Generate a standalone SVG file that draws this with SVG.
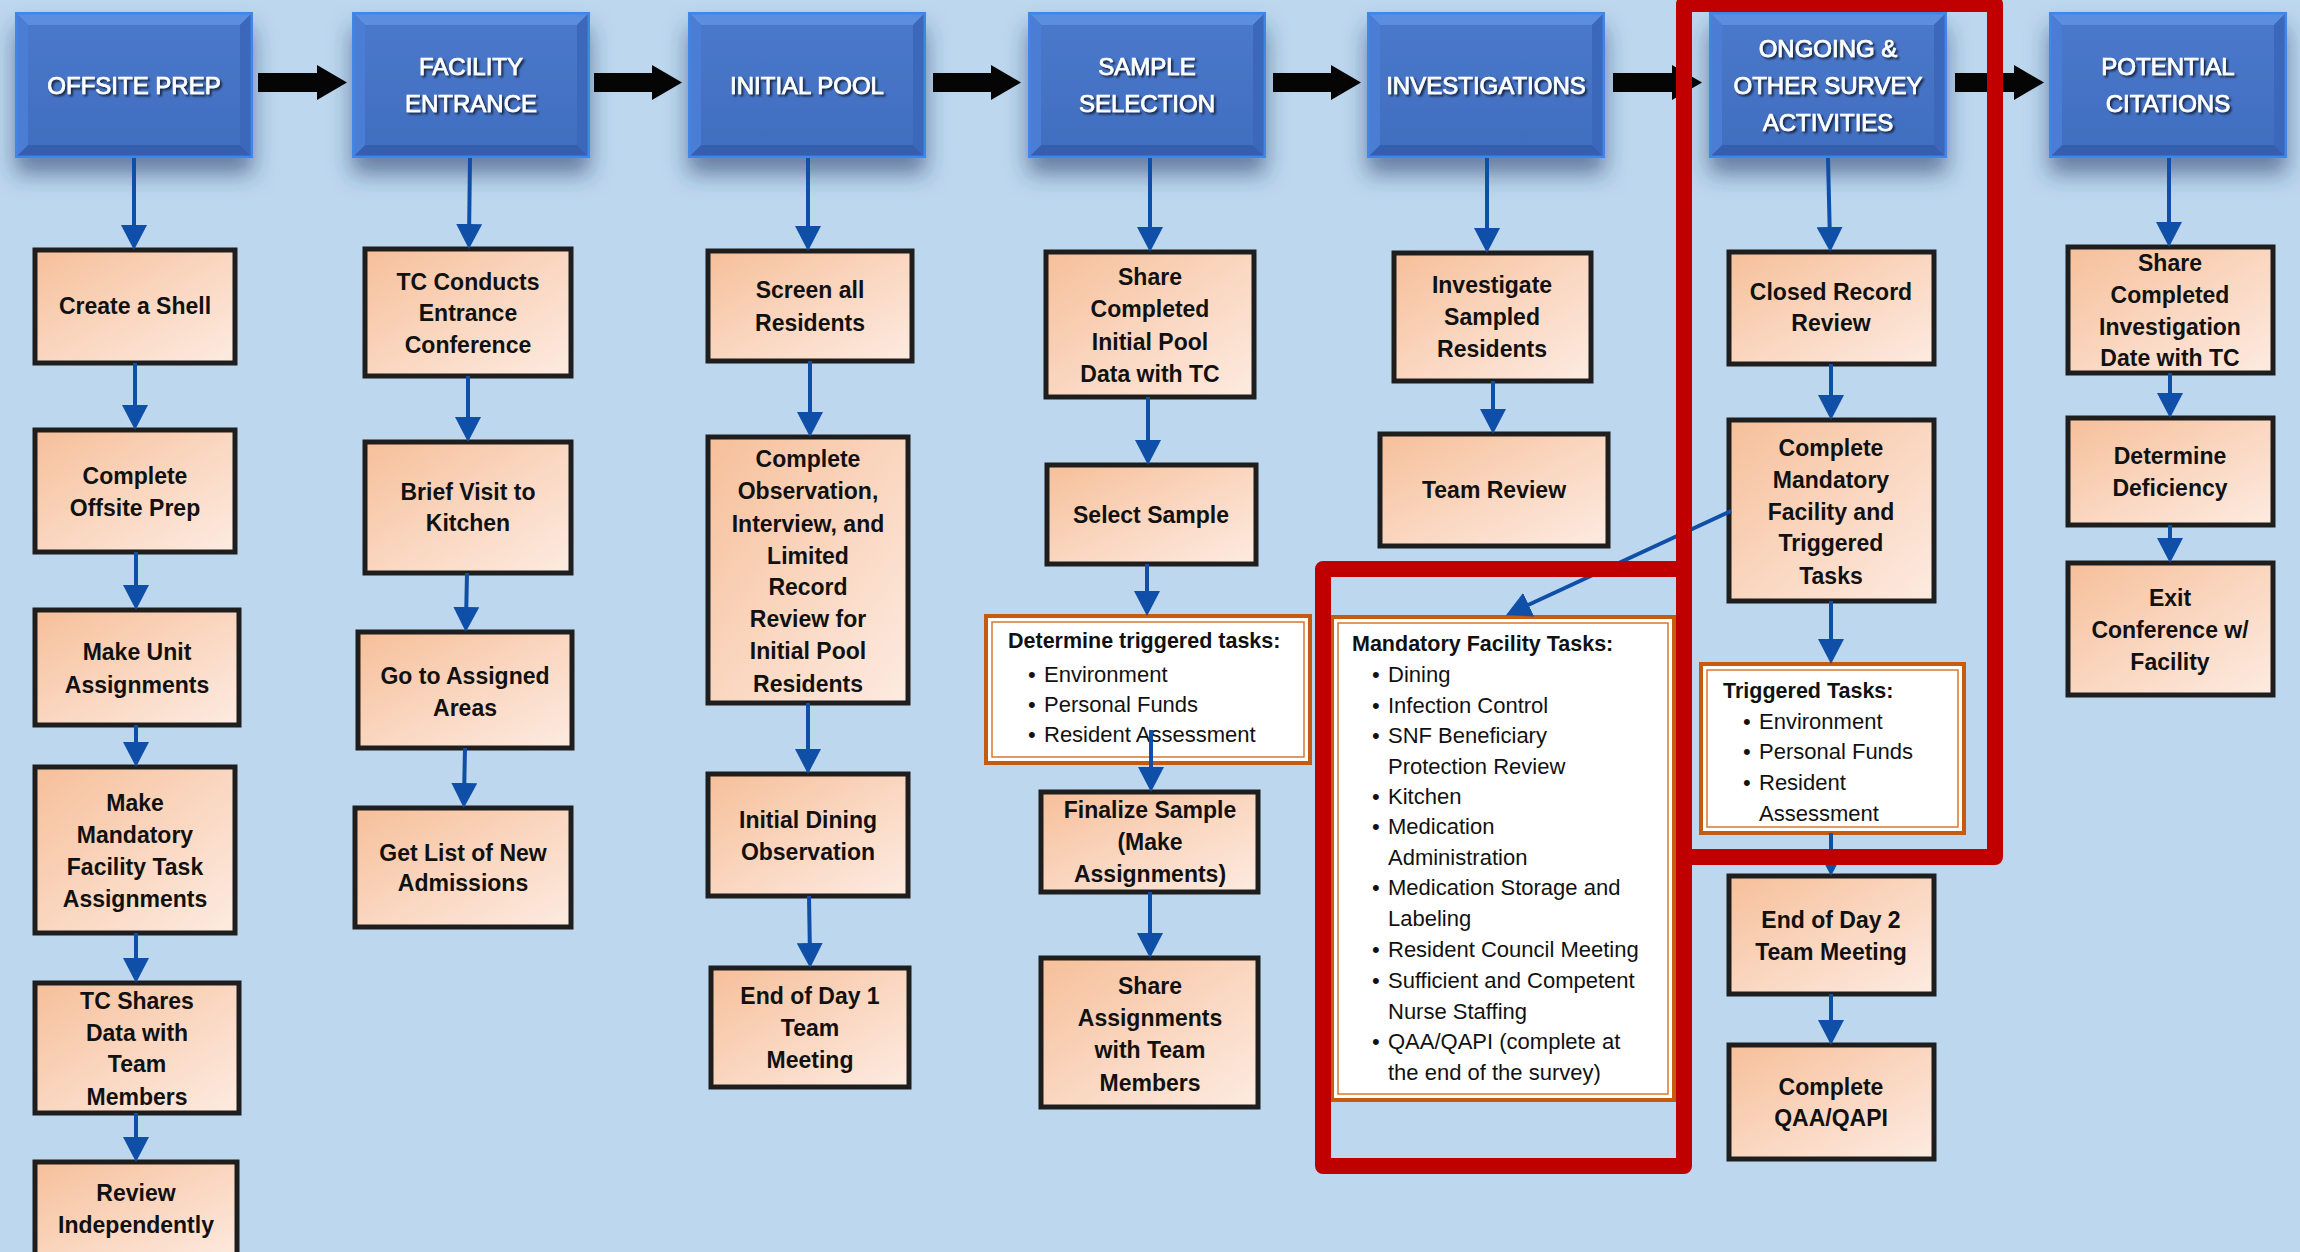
<svg xmlns="http://www.w3.org/2000/svg" width="2300" height="1252" viewBox="0 0 2300 1252">
  <style>
    .hdr-t { font-family: "Liberation Sans", Arial, sans-serif; font-size: 24px; fill: #FFFFFF; stroke: #FFFFFF; stroke-width: 0.7; text-anchor: middle; filter: url(#tshadow); }
    .pk { fill: url(#peach); stroke: #1E1E1E; stroke-width: 5; }
    .pt { font-family: "Liberation Sans", Arial, sans-serif; font-weight: bold; font-size: 23px; fill: #111111; text-anchor: middle; }
    .wb { fill: #FFFFFF; stroke: #C55A11; stroke-width: 4; }
    .wb-in { fill: none; stroke: #D9782E; stroke-width: 1.5; }
    .wt { font-family: "Liberation Sans", Arial, sans-serif; font-size: 22px; fill: #111111; }
    .wh { font-weight: bold; font-size: 21.5px; }
    .flow { fill: #050505; }
    .conn { fill: none; stroke: #0F4FA8; stroke-width: 4; marker-end: url(#ah); }
    .hl { fill: none; stroke: #C00000; stroke-width: 16; stroke-linejoin: round; }
  </style>
  <defs>
    <linearGradient id="peach" x1="0" y1="0" x2="1" y2="1">
      <stop offset="0" stop-color="#F6BF99"/>
      <stop offset="0.5" stop-color="#FAD6BF"/>
      <stop offset="1" stop-color="#FDEBE1"/>
    </linearGradient>
    <linearGradient id="face" x1="0" y1="0" x2="0" y2="1">
      <stop offset="0" stop-color="#4A78CA"/>
      <stop offset="1" stop-color="#416EC0"/>
    </linearGradient>
    <filter id="hshadow" x="-20%" y="-20%" width="140%" height="170%">
      <feDropShadow dx="0" dy="16" stdDeviation="11" flood-color="#1F3864" flood-opacity="0.55"/>
    </filter>
    <filter id="tshadow" x="-10%" y="-30%" width="120%" height="160%">
      <feDropShadow dx="2" dy="2" stdDeviation="1.2" flood-color="#000000" flood-opacity="0.7"/>
    </filter>
    <!-- bevelled blue stage header, 238 x 146 -->
    <g id="hdrShape">
      <rect x="0" y="0" width="238" height="146" fill="#3E6FC6"/>
      <polygon points="0,0 238,0 225,13 13,13" fill="#5C8EE0"/>
      <polygon points="0,146 238,146 225,133 13,133" fill="#355FAE"/>
      <polygon points="0,0 13,13 13,133 0,146" fill="#4B7DD4"/>
      <polygon points="238,0 225,13 225,133 238,146" fill="#3A67BA"/>
      <rect x="13" y="13" width="212" height="120" fill="url(#face)"/>
      <rect x="1.2" y="1.2" width="235.6" height="143.6" fill="none" stroke="#3F86E6" stroke-width="2.5"/>
    </g>
    <marker id="ah" viewBox="0 0 25 26" markerWidth="25" markerHeight="26" markerUnits="userSpaceOnUse" refX="15" refY="13" orient="auto">
      <path d="M0,0 L25,13 L0,26 Z" fill="#0F4FA8"/>
    </marker>
  </defs>

  <rect x="0" y="0" width="2300" height="1252" fill="#BDD7EE"/>

  <!-- stage headers -->
  <g id="hdr-offsite-prep">
    <use href="#hdrShape" x="15" y="12" filter="url(#hshadow)"/>
    <text class="hdr-t" x="134" y="94">OFFSITE PREP</text>
  </g>
  <g id="hdr-facility-entrance">
    <use href="#hdrShape" x="352" y="12" filter="url(#hshadow)"/>
    <text class="hdr-t" x="471" y="75">FACILITY</text>
    <text class="hdr-t" x="471" y="112">ENTRANCE</text>
  </g>
  <g id="hdr-initial-pool">
    <use href="#hdrShape" x="688" y="12" filter="url(#hshadow)"/>
    <text class="hdr-t" x="807" y="94">INITIAL POOL</text>
  </g>
  <g id="hdr-sample-selection">
    <use href="#hdrShape" x="1028" y="12" filter="url(#hshadow)"/>
    <text class="hdr-t" x="1147" y="75">SAMPLE</text>
    <text class="hdr-t" x="1147" y="112">SELECTION</text>
  </g>
  <g id="hdr-investigations">
    <use href="#hdrShape" x="1367" y="12" filter="url(#hshadow)"/>
    <text class="hdr-t" x="1486" y="94">INVESTIGATIONS</text>
  </g>
  <g id="hdr-ongoing">
    <use href="#hdrShape" x="1709" y="12" filter="url(#hshadow)"/>
    <text class="hdr-t" x="1828" y="57">ONGOING &amp;</text>
    <text class="hdr-t" x="1828" y="94">OTHER SURVEY</text>
    <text class="hdr-t" x="1828" y="131">ACTIVITIES</text>
  </g>
  <g id="hdr-potential-citations">
    <use href="#hdrShape" x="2049" y="12" filter="url(#hshadow)"/>
    <text class="hdr-t" x="2168" y="75">POTENTIAL</text>
    <text class="hdr-t" x="2168" y="112">CITATIONS</text>
  </g>

  <!-- OFFSITE PREP column -->
  <g id="n-create-shell">
    <rect class="pk" x="35" y="250" width="200" height="113"/>
    <text class="pt" x="135" y="314">Create a Shell</text>
  </g>
  <g id="n-complete-offsite">
    <rect class="pk" x="35" y="430" width="200" height="122"/>
    <text class="pt" x="135" y="484">Complete</text>
    <text class="pt" x="135" y="516">Offsite Prep</text>
  </g>
  <g id="n-unit-assignments">
    <rect class="pk" x="35" y="610" width="204" height="115"/>
    <text class="pt" x="137" y="660">Make Unit</text>
    <text class="pt" x="137" y="693">Assignments</text>
  </g>
  <g id="n-task-assignments">
    <rect class="pk" x="35" y="767" width="200" height="166"/>
    <text class="pt" x="135" y="811">Make</text>
    <text class="pt" x="135" y="843">Mandatory</text>
    <text class="pt" x="135" y="875">Facility Task</text>
    <text class="pt" x="135" y="907">Assignments</text>
  </g>
  <g id="n-tc-shares">
    <rect class="pk" x="35" y="983" width="204" height="130"/>
    <text class="pt" x="137" y="1009">TC Shares</text>
    <text class="pt" x="137" y="1041">Data with</text>
    <text class="pt" x="137" y="1072">Team</text>
    <text class="pt" x="137" y="1105">Members</text>
  </g>
  <g id="n-review-independently">
    <rect class="pk" x="35" y="1162" width="202" height="104"/>
    <text class="pt" x="136" y="1201">Review</text>
    <text class="pt" x="136" y="1233">Independently</text>
  </g>

  <!-- FACILITY ENTRANCE column -->
  <g id="n-entrance-conference">
    <rect class="pk" x="365" y="249" width="206" height="127"/>
    <text class="pt" x="468" y="290">TC Conducts</text>
    <text class="pt" x="468" y="321">Entrance</text>
    <text class="pt" x="468" y="353">Conference</text>
  </g>
  <g id="n-kitchen-visit">
    <rect class="pk" x="365" y="442" width="206" height="131"/>
    <text class="pt" x="468" y="500">Brief Visit to</text>
    <text class="pt" x="468" y="531">Kitchen</text>
  </g>
  <g id="n-assigned-areas">
    <rect class="pk" x="358" y="632" width="214" height="116"/>
    <text class="pt" x="465" y="684">Go to Assigned</text>
    <text class="pt" x="465" y="716">Areas</text>
  </g>
  <g id="n-new-admissions">
    <rect class="pk" x="355" y="808" width="216" height="119"/>
    <text class="pt" x="463" y="861">Get List of New</text>
    <text class="pt" x="463" y="891">Admissions</text>
  </g>

  <!-- INITIAL POOL column -->
  <g id="n-screen-residents">
    <rect class="pk" x="708" y="251" width="204" height="110"/>
    <text class="pt" x="810" y="298">Screen all</text>
    <text class="pt" x="810" y="331">Residents</text>
  </g>
  <g id="n-initial-pool-review">
    <rect class="pk" x="708" y="437" width="200" height="266"/>
    <text class="pt" x="808" y="467">Complete</text>
    <text class="pt" x="808" y="499">Observation,</text>
    <text class="pt" x="808" y="532">Interview, and</text>
    <text class="pt" x="808" y="564">Limited</text>
    <text class="pt" x="808" y="595">Record</text>
    <text class="pt" x="808" y="627">Review for</text>
    <text class="pt" x="808" y="659">Initial Pool</text>
    <text class="pt" x="808" y="692">Residents</text>
  </g>
  <g id="n-initial-dining">
    <rect class="pk" x="708" y="774" width="200" height="122"/>
    <text class="pt" x="808" y="828">Initial Dining</text>
    <text class="pt" x="808" y="860">Observation</text>
  </g>
  <g id="n-day1-meeting">
    <rect class="pk" x="711" y="968" width="198" height="119"/>
    <text class="pt" x="810" y="1004">End of Day 1</text>
    <text class="pt" x="810" y="1036">Team</text>
    <text class="pt" x="810" y="1068">Meeting</text>
  </g>

  <!-- SAMPLE SELECTION column -->
  <g id="n-share-pool-data">
    <rect class="pk" x="1046" y="252" width="208" height="145"/>
    <text class="pt" x="1150" y="285">Share</text>
    <text class="pt" x="1150" y="317">Completed</text>
    <text class="pt" x="1150" y="350">Initial Pool</text>
    <text class="pt" x="1150" y="382">Data with TC</text>
  </g>
  <g id="n-select-sample">
    <rect class="pk" x="1047" y="465" width="209" height="99"/>
    <text class="pt" x="1151" y="523">Select Sample</text>
  </g>
  <g id="n-determine-triggered">
    <rect class="wb" x="986" y="616" width="324" height="147"/>
    <rect class="wb-in" x="992" y="622" width="312" height="135"/>
    <text class="wt wh" x="1008" y="648">Determine triggered tasks:</text>
    <text class="wt" x="1028" y="682">•</text>
    <text class="wt" x="1044" y="682">Environment</text>
    <text class="wt" x="1028" y="712">•</text>
    <text class="wt" x="1044" y="712">Personal Funds</text>
    <text class="wt" x="1028" y="742">•</text>
    <text class="wt" x="1044" y="742">Resident Assessment</text>
  </g>
  <g id="n-finalize-sample">
    <rect class="pk" x="1041" y="792" width="217" height="100"/>
    <text class="pt" x="1150" y="818">Finalize Sample</text>
    <text class="pt" x="1150" y="850">(Make</text>
    <text class="pt" x="1150" y="882">Assignments)</text>
  </g>
  <g id="n-share-assignments">
    <rect class="pk" x="1041" y="958" width="217" height="149"/>
    <text class="pt" x="1150" y="994">Share</text>
    <text class="pt" x="1150" y="1026">Assignments</text>
    <text class="pt" x="1150" y="1058">with Team</text>
    <text class="pt" x="1150" y="1091">Members</text>
  </g>

  <!-- INVESTIGATIONS column -->
  <g id="n-investigate">
    <rect class="pk" x="1394" y="253" width="197" height="128"/>
    <text class="pt" x="1492" y="293">Investigate</text>
    <text class="pt" x="1492" y="325">Sampled</text>
    <text class="pt" x="1492" y="357">Residents</text>
  </g>
  <g id="n-team-review">
    <rect class="pk" x="1380" y="434" width="228" height="112"/>
    <text class="pt" x="1494" y="498">Team Review</text>
  </g>
  <g id="n-mandatory-tasks">
    <rect class="wb" x="1332" y="617" width="342" height="483"/>
    <rect class="wb-in" x="1338" y="623" width="330" height="471"/>
    <text class="wt wh" x="1352" y="651">Mandatory Facility Tasks:</text>
    <text class="wt" x="1372" y="682">•</text><text class="wt" x="1388" y="682">Dining</text>
    <text class="wt" x="1372" y="713">•</text><text class="wt" x="1388" y="713">Infection Control</text>
    <text class="wt" x="1372" y="743">•</text><text class="wt" x="1388" y="743">SNF Beneficiary</text>
    <text class="wt" x="1388" y="774">Protection Review</text>
    <text class="wt" x="1372" y="804">•</text><text class="wt" x="1388" y="804">Kitchen</text>
    <text class="wt" x="1372" y="834">•</text><text class="wt" x="1388" y="834">Medication</text>
    <text class="wt" x="1388" y="865">Administration</text>
    <text class="wt" x="1372" y="895">•</text><text class="wt" x="1388" y="895">Medication Storage and</text>
    <text class="wt" x="1388" y="926">Labeling</text>
    <text class="wt" x="1372" y="957">•</text><text class="wt" x="1388" y="957">Resident Council Meeting</text>
    <text class="wt" x="1372" y="988">•</text><text class="wt" x="1388" y="988">Sufficient and Competent</text>
    <text class="wt" x="1388" y="1019">Nurse Staffing</text>
    <text class="wt" x="1372" y="1049">•</text><text class="wt" x="1388" y="1049">QAA/QAPI (complete at</text>
    <text class="wt" x="1388" y="1080">the end of the survey)</text>
  </g>

  <!-- ONGOING & OTHER SURVEY ACTIVITIES column -->
  <g id="n-closed-record">
    <rect class="pk" x="1729" y="252" width="205" height="112"/>
    <text class="pt" x="1831" y="300">Closed Record</text>
    <text class="pt" x="1831" y="331">Review</text>
  </g>
  <g id="n-complete-mandatory">
    <rect class="pk" x="1729" y="420" width="205" height="181"/>
    <text class="pt" x="1831" y="456">Complete</text>
    <text class="pt" x="1831" y="488">Mandatory</text>
    <text class="pt" x="1831" y="520">Facility and</text>
    <text class="pt" x="1831" y="551">Triggered</text>
    <text class="pt" x="1831" y="584">Tasks</text>
  </g>
  <g id="n-triggered-tasks">
    <rect class="wb" x="1701" y="664" width="263" height="169"/>
    <rect class="wb-in" x="1707" y="670" width="251" height="157"/>
    <text class="wt wh" x="1723" y="698">Triggered Tasks:</text>
    <text class="wt" x="1743" y="729">•</text><text class="wt" x="1759" y="729">Environment</text>
    <text class="wt" x="1743" y="759">•</text><text class="wt" x="1759" y="759">Personal Funds</text>
    <text class="wt" x="1743" y="790">•</text><text class="wt" x="1759" y="790">Resident</text>
    <text class="wt" x="1759" y="821">Assessment</text>
  </g>
  <g id="n-day2-meeting">
    <rect class="pk" x="1729" y="876" width="205" height="118"/>
    <text class="pt" x="1831" y="928">End of Day 2</text>
    <text class="pt" x="1831" y="960">Team Meeting</text>
  </g>
  <g id="n-complete-qaa">
    <rect class="pk" x="1729" y="1045" width="205" height="114"/>
    <text class="pt" x="1831" y="1095">Complete</text>
    <text class="pt" x="1831" y="1126">QAA/QAPI</text>
  </g>

  <!-- POTENTIAL CITATIONS column -->
  <g id="n-share-investigation">
    <rect class="pk" x="2068" y="247" width="205" height="126"/>
    <text class="pt" x="2170" y="271">Share</text>
    <text class="pt" x="2170" y="303">Completed</text>
    <text class="pt" x="2170" y="335">Investigation</text>
    <text class="pt" x="2170" y="366">Date with TC</text>
  </g>
  <g id="n-determine-deficiency">
    <rect class="pk" x="2068" y="418" width="205" height="107"/>
    <text class="pt" x="2170" y="464">Determine</text>
    <text class="pt" x="2170" y="496">Deficiency</text>
  </g>
  <g id="n-exit-conference">
    <rect class="pk" x="2068" y="563" width="205" height="132"/>
    <text class="pt" x="2170" y="606">Exit</text>
    <text class="pt" x="2170" y="638">Conference w/</text>
    <text class="pt" x="2170" y="670">Facility</text>
  </g>

  <!-- connectors -->
  <g id="connectors">
    <!-- stage-to-stage block arrows -->
    <path class="flow" d="M258,73 H317 V65 L347,82.5 L317,100 V92 H258 Z"/>
    <path class="flow" d="M594,73 H652 V65 L682,82.5 L652,100 V92 H594 Z"/>
    <path class="flow" d="M933,73 H991 V65 L1021,82.5 L991,100 V92 H933 Z"/>
    <path class="flow" d="M1273,73 H1331 V65 L1361,82.5 L1331,100 V92 H1273 Z"/>
    <path class="flow" d="M1613,73 H1672 V65 L1702,82.5 L1672,100 V92 H1613 Z"/>
    <path class="flow" d="M1955,73 H2014 V65 L2044,82.5 L2014,100 V92 H1955 Z"/>

    <!-- offsite prep -->
    <line class="conn" x1="134" y1="158" x2="134" y2="240"/>
    <line class="conn" x1="135" y1="363" x2="135" y2="420"/>
    <line class="conn" x1="136" y1="552" x2="136" y2="600"/>
    <line class="conn" x1="136" y1="725" x2="136" y2="757"/>
    <line class="conn" x1="136" y1="933" x2="136" y2="973"/>
    <line class="conn" x1="136" y1="1113" x2="136" y2="1152"/>
    <!-- facility entrance -->
    <line class="conn" x1="470" y1="158" x2="469" y2="239"/>
    <line class="conn" x1="468" y1="376" x2="468" y2="432"/>
    <line class="conn" x1="467" y1="573" x2="466" y2="622"/>
    <line class="conn" x1="465" y1="748" x2="464" y2="798"/>
    <!-- initial pool -->
    <line class="conn" x1="808" y1="158" x2="808" y2="241"/>
    <line class="conn" x1="810" y1="361" x2="810" y2="427"/>
    <line class="conn" x1="808" y1="703" x2="808" y2="764"/>
    <line class="conn" x1="809" y1="896" x2="810" y2="958"/>
    <!-- sample selection -->
    <line class="conn" x1="1150" y1="158" x2="1150" y2="242"/>
    <line class="conn" x1="1148" y1="397" x2="1148" y2="455"/>
    <line class="conn" x1="1147" y1="564" x2="1147" y2="606"/>
    <line class="conn" x1="1151" y1="730" x2="1151" y2="782"/>
    <line class="conn" x1="1150" y1="892" x2="1150" y2="948"/>
    <!-- investigations -->
    <line class="conn" x1="1487" y1="158" x2="1487" y2="243"/>
    <line class="conn" x1="1493" y1="381" x2="1493" y2="424"/>
    <!-- ongoing & other survey activities -->
    <line class="conn" x1="1828" y1="158" x2="1830" y2="242"/>
    <line class="conn" x1="1831" y1="364" x2="1831" y2="410"/>
    <line class="conn" x1="1831" y1="601" x2="1831" y2="654"/>
    <line class="conn" x1="1831" y1="833" x2="1831" y2="866"/>
    <line class="conn" x1="1831" y1="994" x2="1831" y2="1035"/>
    <line class="conn" x1="1731" y1="511" x2="1515" y2="611"/>
    <!-- potential citations -->
    <line class="conn" x1="2169" y1="158" x2="2169" y2="237"/>
    <line class="conn" x1="2170" y1="373" x2="2170" y2="408"/>
    <line class="conn" x1="2170" y1="525" x2="2170" y2="553"/>
  </g>

  <!-- red highlight frames -->
  <g id="highlights">
    <rect class="hl" x="1684" y="4" width="311" height="853" stroke-width="15"/>
    <rect class="hl" x="1323" y="569" width="361" height="597"/>
  </g>
</svg>
